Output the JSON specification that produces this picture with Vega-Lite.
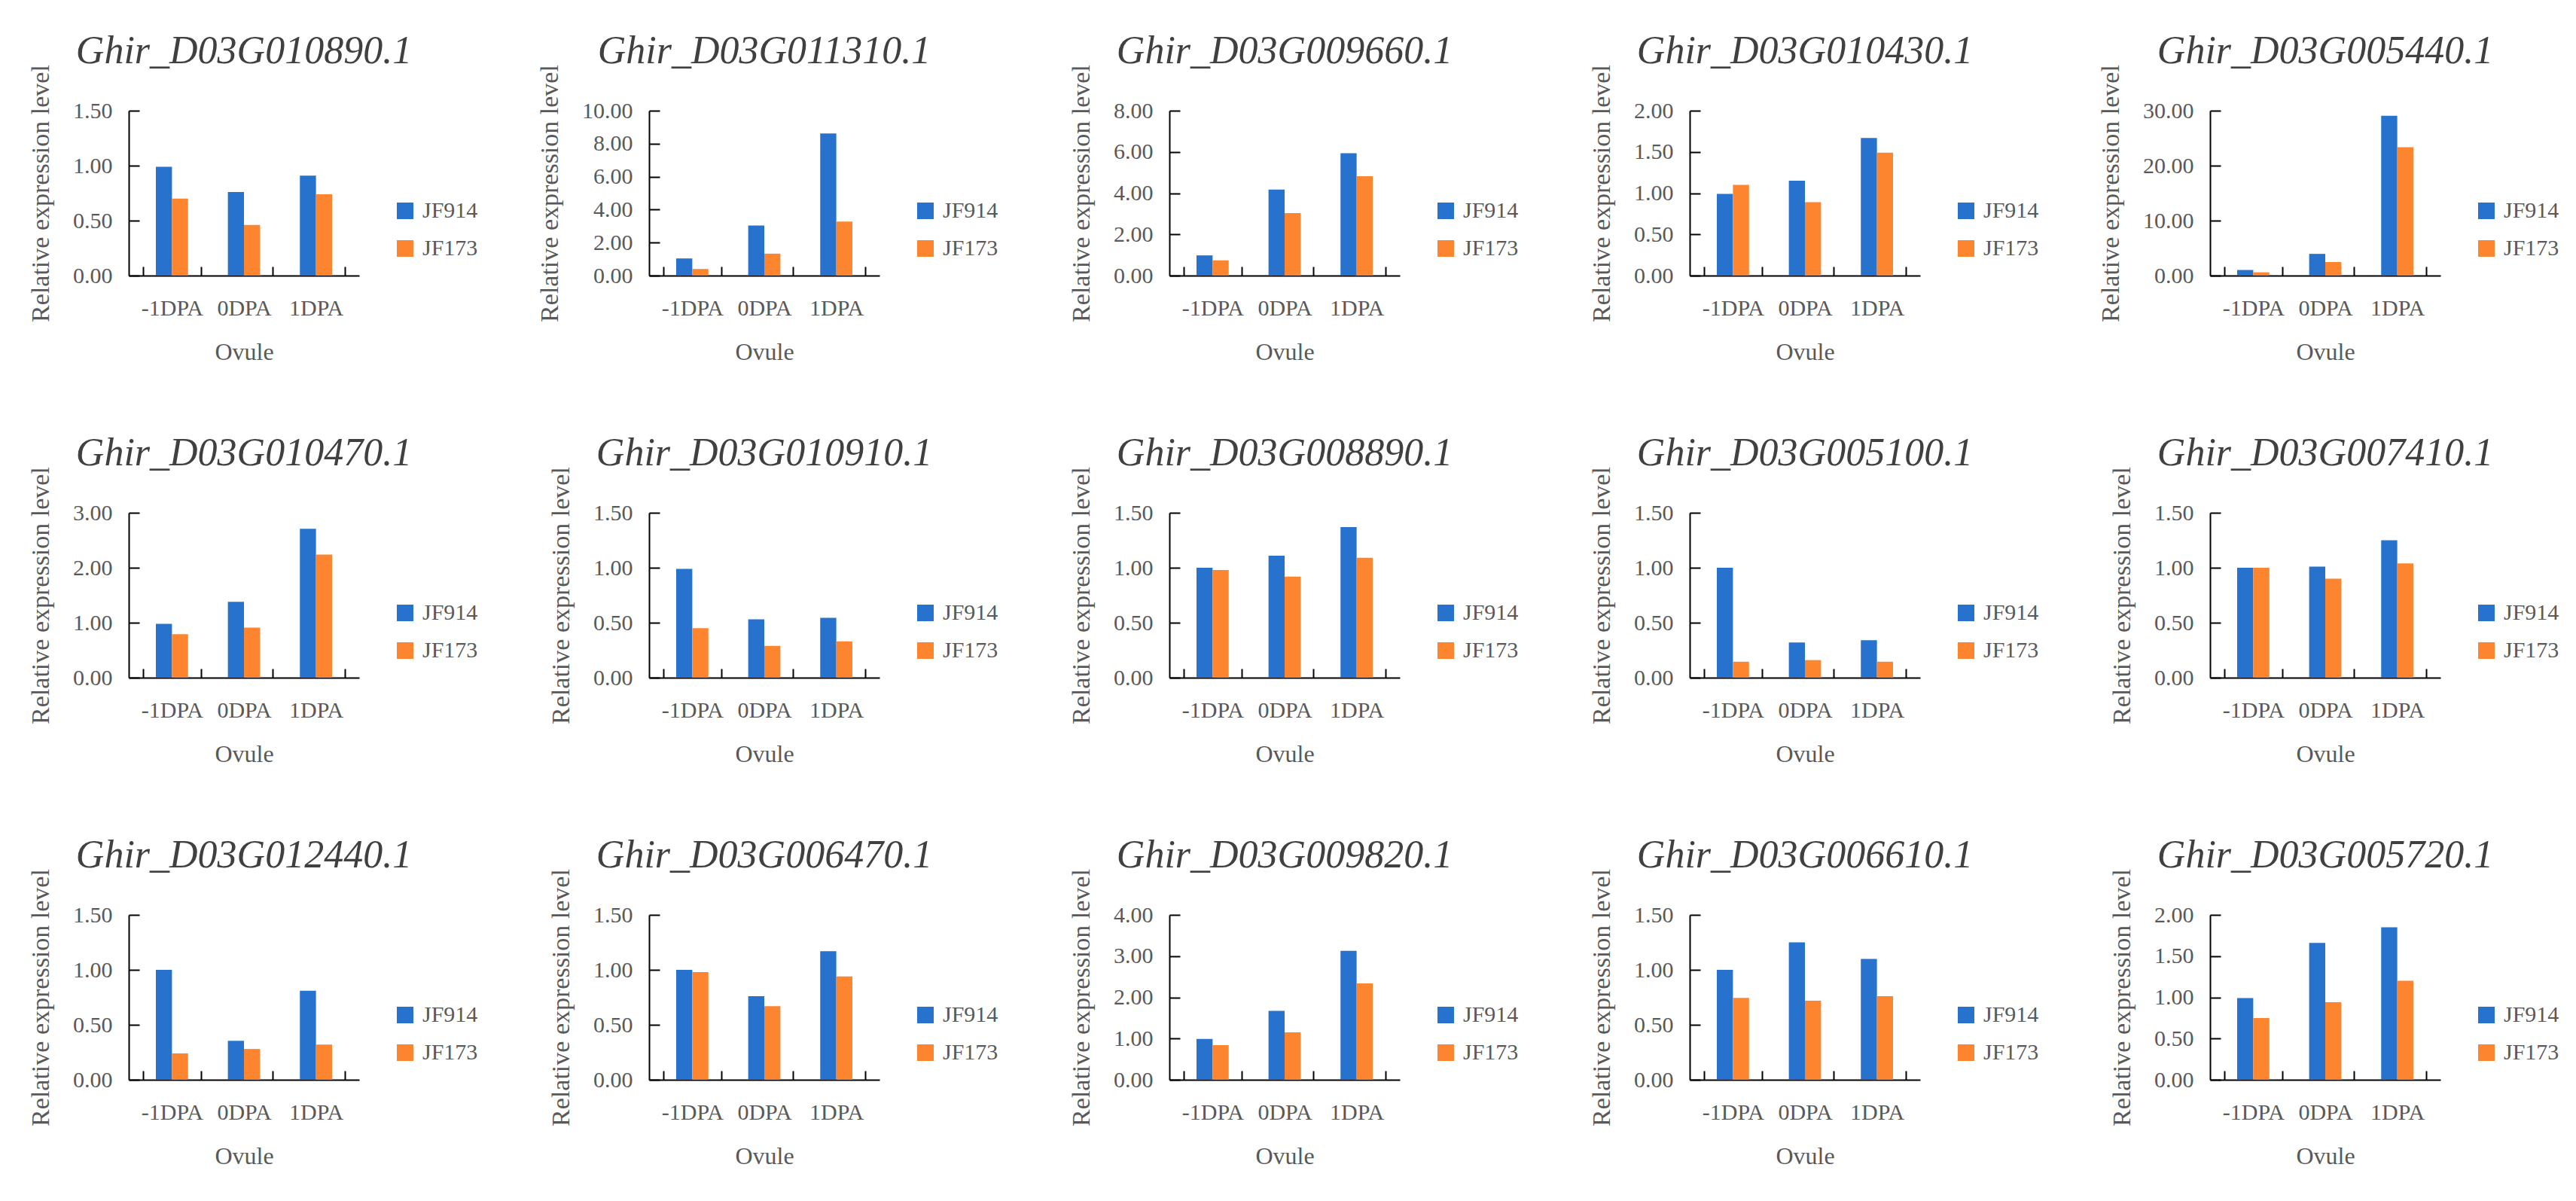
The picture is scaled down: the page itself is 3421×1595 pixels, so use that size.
{
  "$schema": "https://vega.github.io/schema/vega-lite/v6.json",
  "background": "white",
  "padding": {"left": 37, "top": 41, "right": 5, "bottom": 5},
  "data": {
    "values": [
      {"gene": "Ghir_D03G010890.1", "stage": "-1DPA", "line": "JF914", "value": 0.99},
      {"gene": "Ghir_D03G010890.1", "stage": "0DPA", "line": "JF914", "value": 0.76},
      {"gene": "Ghir_D03G010890.1", "stage": "1DPA", "line": "JF914", "value": 0.91},
      {"gene": "Ghir_D03G010890.1", "stage": "-1DPA", "line": "JF173", "value": 0.70},
      {"gene": "Ghir_D03G010890.1", "stage": "0DPA", "line": "JF173", "value": 0.46},
      {"gene": "Ghir_D03G010890.1", "stage": "1DPA", "line": "JF173", "value": 0.74},
      {"gene": "Ghir_D03G011310.1", "stage": "-1DPA", "line": "JF914", "value": 1.04},
      {"gene": "Ghir_D03G011310.1", "stage": "0DPA", "line": "JF914", "value": 3.04},
      {"gene": "Ghir_D03G011310.1", "stage": "1DPA", "line": "JF914", "value": 8.62},
      {"gene": "Ghir_D03G011310.1", "stage": "-1DPA", "line": "JF173", "value": 0.40},
      {"gene": "Ghir_D03G011310.1", "stage": "0DPA", "line": "JF173", "value": 1.33},
      {"gene": "Ghir_D03G011310.1", "stage": "1DPA", "line": "JF173", "value": 3.28},
      {"gene": "Ghir_D03G009660.1", "stage": "-1DPA", "line": "JF914", "value": 0.98},
      {"gene": "Ghir_D03G009660.1", "stage": "0DPA", "line": "JF914", "value": 4.17},
      {"gene": "Ghir_D03G009660.1", "stage": "1DPA", "line": "JF914", "value": 5.94},
      {"gene": "Ghir_D03G009660.1", "stage": "-1DPA", "line": "JF173", "value": 0.74},
      {"gene": "Ghir_D03G009660.1", "stage": "0DPA", "line": "JF173", "value": 3.03},
      {"gene": "Ghir_D03G009660.1", "stage": "1DPA", "line": "JF173", "value": 4.82},
      {"gene": "Ghir_D03G010430.1", "stage": "-1DPA", "line": "JF914", "value": 0.99},
      {"gene": "Ghir_D03G010430.1", "stage": "0DPA", "line": "JF914", "value": 1.15},
      {"gene": "Ghir_D03G010430.1", "stage": "1DPA", "line": "JF914", "value": 1.67},
      {"gene": "Ghir_D03G010430.1", "stage": "-1DPA", "line": "JF173", "value": 1.10},
      {"gene": "Ghir_D03G010430.1", "stage": "0DPA", "line": "JF173", "value": 0.89},
      {"gene": "Ghir_D03G010430.1", "stage": "1DPA", "line": "JF173", "value": 1.49},
      {"gene": "Ghir_D03G005440.1", "stage": "-1DPA", "line": "JF914", "value": 1.02},
      {"gene": "Ghir_D03G005440.1", "stage": "0DPA", "line": "JF914", "value": 3.95},
      {"gene": "Ghir_D03G005440.1", "stage": "1DPA", "line": "JF914", "value": 29.07},
      {"gene": "Ghir_D03G005440.1", "stage": "-1DPA", "line": "JF173", "value": 0.60},
      {"gene": "Ghir_D03G005440.1", "stage": "0DPA", "line": "JF173", "value": 2.47},
      {"gene": "Ghir_D03G005440.1", "stage": "1DPA", "line": "JF173", "value": 23.35},
      {"gene": "Ghir_D03G010470.1", "stage": "-1DPA", "line": "JF914", "value": 0.98},
      {"gene": "Ghir_D03G010470.1", "stage": "0DPA", "line": "JF914", "value": 1.38},
      {"gene": "Ghir_D03G010470.1", "stage": "1DPA", "line": "JF914", "value": 2.71},
      {"gene": "Ghir_D03G010470.1", "stage": "-1DPA", "line": "JF173", "value": 0.79},
      {"gene": "Ghir_D03G010470.1", "stage": "0DPA", "line": "JF173", "value": 0.91},
      {"gene": "Ghir_D03G010470.1", "stage": "1DPA", "line": "JF173", "value": 2.24},
      {"gene": "Ghir_D03G010910.1", "stage": "-1DPA", "line": "JF914", "value": 0.99},
      {"gene": "Ghir_D03G010910.1", "stage": "0DPA", "line": "JF914", "value": 0.53},
      {"gene": "Ghir_D03G010910.1", "stage": "1DPA", "line": "JF914", "value": 0.545},
      {"gene": "Ghir_D03G010910.1", "stage": "-1DPA", "line": "JF173", "value": 0.45},
      {"gene": "Ghir_D03G010910.1", "stage": "0DPA", "line": "JF173", "value": 0.29},
      {"gene": "Ghir_D03G010910.1", "stage": "1DPA", "line": "JF173", "value": 0.33},
      {"gene": "Ghir_D03G008890.1", "stage": "-1DPA", "line": "JF914", "value": 1.00},
      {"gene": "Ghir_D03G008890.1", "stage": "0DPA", "line": "JF914", "value": 1.11},
      {"gene": "Ghir_D03G008890.1", "stage": "1DPA", "line": "JF914", "value": 1.37},
      {"gene": "Ghir_D03G008890.1", "stage": "-1DPA", "line": "JF173", "value": 0.98},
      {"gene": "Ghir_D03G008890.1", "stage": "0DPA", "line": "JF173", "value": 0.92},
      {"gene": "Ghir_D03G008890.1", "stage": "1DPA", "line": "JF173", "value": 1.09},
      {"gene": "Ghir_D03G005100.1", "stage": "-1DPA", "line": "JF914", "value": 1.00},
      {"gene": "Ghir_D03G005100.1", "stage": "0DPA", "line": "JF914", "value": 0.32},
      {"gene": "Ghir_D03G005100.1", "stage": "1DPA", "line": "JF914", "value": 0.34},
      {"gene": "Ghir_D03G005100.1", "stage": "-1DPA", "line": "JF173", "value": 0.145},
      {"gene": "Ghir_D03G005100.1", "stage": "0DPA", "line": "JF173", "value": 0.16},
      {"gene": "Ghir_D03G005100.1", "stage": "1DPA", "line": "JF173", "value": 0.145},
      {"gene": "Ghir_D03G007410.1", "stage": "-1DPA", "line": "JF914", "value": 1.00},
      {"gene": "Ghir_D03G007410.1", "stage": "0DPA", "line": "JF914", "value": 1.01},
      {"gene": "Ghir_D03G007410.1", "stage": "1DPA", "line": "JF914", "value": 1.25},
      {"gene": "Ghir_D03G007410.1", "stage": "-1DPA", "line": "JF173", "value": 1.00},
      {"gene": "Ghir_D03G007410.1", "stage": "0DPA", "line": "JF173", "value": 0.90},
      {"gene": "Ghir_D03G007410.1", "stage": "1DPA", "line": "JF173", "value": 1.04},
      {"gene": "Ghir_D03G012440.1", "stage": "-1DPA", "line": "JF914", "value": 1.00},
      {"gene": "Ghir_D03G012440.1", "stage": "0DPA", "line": "JF914", "value": 0.355},
      {"gene": "Ghir_D03G012440.1", "stage": "1DPA", "line": "JF914", "value": 0.81},
      {"gene": "Ghir_D03G012440.1", "stage": "-1DPA", "line": "JF173", "value": 0.24},
      {"gene": "Ghir_D03G012440.1", "stage": "0DPA", "line": "JF173", "value": 0.28},
      {"gene": "Ghir_D03G012440.1", "stage": "1DPA", "line": "JF173", "value": 0.32},
      {"gene": "Ghir_D03G006470.1", "stage": "-1DPA", "line": "JF914", "value": 1.00},
      {"gene": "Ghir_D03G006470.1", "stage": "0DPA", "line": "JF914", "value": 0.76},
      {"gene": "Ghir_D03G006470.1", "stage": "1DPA", "line": "JF914", "value": 1.17},
      {"gene": "Ghir_D03G006470.1", "stage": "-1DPA", "line": "JF173", "value": 0.98},
      {"gene": "Ghir_D03G006470.1", "stage": "0DPA", "line": "JF173", "value": 0.67},
      {"gene": "Ghir_D03G006470.1", "stage": "1DPA", "line": "JF173", "value": 0.94},
      {"gene": "Ghir_D03G009820.1", "stage": "-1DPA", "line": "JF914", "value": 0.99},
      {"gene": "Ghir_D03G009820.1", "stage": "0DPA", "line": "JF914", "value": 1.67},
      {"gene": "Ghir_D03G009820.1", "stage": "1DPA", "line": "JF914", "value": 3.13},
      {"gene": "Ghir_D03G009820.1", "stage": "-1DPA", "line": "JF173", "value": 0.84},
      {"gene": "Ghir_D03G009820.1", "stage": "0DPA", "line": "JF173", "value": 1.15},
      {"gene": "Ghir_D03G009820.1", "stage": "1DPA", "line": "JF173", "value": 2.34},
      {"gene": "Ghir_D03G006610.1", "stage": "-1DPA", "line": "JF914", "value": 1.00},
      {"gene": "Ghir_D03G006610.1", "stage": "0DPA", "line": "JF914", "value": 1.25},
      {"gene": "Ghir_D03G006610.1", "stage": "1DPA", "line": "JF914", "value": 1.10},
      {"gene": "Ghir_D03G006610.1", "stage": "-1DPA", "line": "JF173", "value": 0.745},
      {"gene": "Ghir_D03G006610.1", "stage": "0DPA", "line": "JF173", "value": 0.72},
      {"gene": "Ghir_D03G006610.1", "stage": "1DPA", "line": "JF173", "value": 0.76},
      {"gene": "Ghir_D03G005720.1", "stage": "-1DPA", "line": "JF914", "value": 0.99},
      {"gene": "Ghir_D03G005720.1", "stage": "0DPA", "line": "JF914", "value": 1.66},
      {"gene": "Ghir_D03G005720.1", "stage": "1DPA", "line": "JF914", "value": 1.85},
      {"gene": "Ghir_D03G005720.1", "stage": "-1DPA", "line": "JF173", "value": 0.75},
      {"gene": "Ghir_D03G005720.1", "stage": "0DPA", "line": "JF173", "value": 0.94},
      {"gene": "Ghir_D03G005720.1", "stage": "1DPA", "line": "JF173", "value": 1.20}
    ]
  },
  "columns": 5,
  "spacing": {"row": 315, "column": 385},
  "bounds": "flush",
  "resolve": {
    "scale": {"x": "independent", "y": "independent", "xOffset": "independent"},
    "axis": {"x": "independent", "y": "independent"},
    "legend": {"color": "independent"}
  },
  "concat": [
    {
      "title": "Ghir_D03G010890.1", "width": 306, "height": 219,
      "transform": [{"filter": "datum.gene === 'Ghir_D03G010890.1'"}],
      "mark": "bar",
      "encoding": {
        "x": {"field": "stage", "type": "nominal", "sort": ["-1DPA", "0DPA", "1DPA"], "title": "Ovule"},
        "xOffset": {"field": "line", "type": "nominal", "sort": ["JF914", "JF173"]},
        "y": {"field": "value", "type": "quantitative", "title": "Relative expression level", "scale": {"domain": [0, 1.5]}, "axis": {"values": [0, 0.5, 1, 1.5], "format": ".2f"}},
        "color": {"field": "line", "type": "nominal", "title": null, "scale": {"domain": ["JF914", "JF173"], "range": ["#2672cc", "#fd8530"]}}
      }
    },
    {
      "title": "Ghir_D03G011310.1", "width": 306, "height": 219,
      "transform": [{"filter": "datum.gene === 'Ghir_D03G011310.1'"}],
      "mark": "bar",
      "encoding": {
        "x": {"field": "stage", "type": "nominal", "sort": ["-1DPA", "0DPA", "1DPA"], "title": "Ovule"},
        "xOffset": {"field": "line", "type": "nominal", "sort": ["JF914", "JF173"]},
        "y": {"field": "value", "type": "quantitative", "title": "Relative expression level", "scale": {"domain": [0, 10]}, "axis": {"values": [0, 2, 4, 6, 8, 10], "format": ".2f"}},
        "color": {"field": "line", "type": "nominal", "title": null, "scale": {"domain": ["JF914", "JF173"], "range": ["#2672cc", "#fd8530"]}}
      }
    },
    {
      "title": "Ghir_D03G009660.1", "width": 306, "height": 219,
      "transform": [{"filter": "datum.gene === 'Ghir_D03G009660.1'"}],
      "mark": "bar",
      "encoding": {
        "x": {"field": "stage", "type": "nominal", "sort": ["-1DPA", "0DPA", "1DPA"], "title": "Ovule"},
        "xOffset": {"field": "line", "type": "nominal", "sort": ["JF914", "JF173"]},
        "y": {"field": "value", "type": "quantitative", "title": "Relative expression level", "scale": {"domain": [0, 8]}, "axis": {"values": [0, 2, 4, 6, 8], "format": ".2f"}},
        "color": {"field": "line", "type": "nominal", "title": null, "scale": {"domain": ["JF914", "JF173"], "range": ["#2672cc", "#fd8530"]}}
      }
    },
    {
      "title": "Ghir_D03G010430.1", "width": 306, "height": 219,
      "transform": [{"filter": "datum.gene === 'Ghir_D03G010430.1'"}],
      "mark": "bar",
      "encoding": {
        "x": {"field": "stage", "type": "nominal", "sort": ["-1DPA", "0DPA", "1DPA"], "title": "Ovule"},
        "xOffset": {"field": "line", "type": "nominal", "sort": ["JF914", "JF173"]},
        "y": {"field": "value", "type": "quantitative", "title": "Relative expression level", "scale": {"domain": [0, 2]}, "axis": {"values": [0, 0.5, 1, 1.5, 2], "format": ".2f"}},
        "color": {"field": "line", "type": "nominal", "title": null, "scale": {"domain": ["JF914", "JF173"], "range": ["#2672cc", "#fd8530"]}}
      }
    },
    {
      "title": "Ghir_D03G005440.1", "width": 306, "height": 219,
      "transform": [{"filter": "datum.gene === 'Ghir_D03G005440.1'"}],
      "mark": "bar",
      "encoding": {
        "x": {"field": "stage", "type": "nominal", "sort": ["-1DPA", "0DPA", "1DPA"], "title": "Ovule"},
        "xOffset": {"field": "line", "type": "nominal", "sort": ["JF914", "JF173"]},
        "y": {"field": "value", "type": "quantitative", "title": "Relative expression level", "scale": {"domain": [0, 30]}, "axis": {"values": [0, 10, 20, 30], "format": ".2f"}},
        "color": {"field": "line", "type": "nominal", "title": null, "scale": {"domain": ["JF914", "JF173"], "range": ["#2672cc", "#fd8530"]}}
      }
    },
    {
      "title": "Ghir_D03G010470.1", "width": 306, "height": 219,
      "transform": [{"filter": "datum.gene === 'Ghir_D03G010470.1'"}],
      "mark": "bar",
      "encoding": {
        "x": {"field": "stage", "type": "nominal", "sort": ["-1DPA", "0DPA", "1DPA"], "title": "Ovule"},
        "xOffset": {"field": "line", "type": "nominal", "sort": ["JF914", "JF173"]},
        "y": {"field": "value", "type": "quantitative", "title": "Relative expression level", "scale": {"domain": [0, 3]}, "axis": {"values": [0, 1, 2, 3], "format": ".2f"}},
        "color": {"field": "line", "type": "nominal", "title": null, "scale": {"domain": ["JF914", "JF173"], "range": ["#2672cc", "#fd8530"]}}
      }
    },
    {
      "title": "Ghir_D03G010910.1", "width": 306, "height": 219,
      "transform": [{"filter": "datum.gene === 'Ghir_D03G010910.1'"}],
      "mark": "bar",
      "encoding": {
        "x": {"field": "stage", "type": "nominal", "sort": ["-1DPA", "0DPA", "1DPA"], "title": "Ovule"},
        "xOffset": {"field": "line", "type": "nominal", "sort": ["JF914", "JF173"]},
        "y": {"field": "value", "type": "quantitative", "title": "Relative expression level", "scale": {"domain": [0, 1.5]}, "axis": {"values": [0, 0.5, 1, 1.5], "format": ".2f"}},
        "color": {"field": "line", "type": "nominal", "title": null, "scale": {"domain": ["JF914", "JF173"], "range": ["#2672cc", "#fd8530"]}}
      }
    },
    {
      "title": "Ghir_D03G008890.1", "width": 306, "height": 219,
      "transform": [{"filter": "datum.gene === 'Ghir_D03G008890.1'"}],
      "mark": "bar",
      "encoding": {
        "x": {"field": "stage", "type": "nominal", "sort": ["-1DPA", "0DPA", "1DPA"], "title": "Ovule"},
        "xOffset": {"field": "line", "type": "nominal", "sort": ["JF914", "JF173"]},
        "y": {"field": "value", "type": "quantitative", "title": "Relative expression level", "scale": {"domain": [0, 1.5]}, "axis": {"values": [0, 0.5, 1, 1.5], "format": ".2f"}},
        "color": {"field": "line", "type": "nominal", "title": null, "scale": {"domain": ["JF914", "JF173"], "range": ["#2672cc", "#fd8530"]}}
      }
    },
    {
      "title": "Ghir_D03G005100.1", "width": 306, "height": 219,
      "transform": [{"filter": "datum.gene === 'Ghir_D03G005100.1'"}],
      "mark": "bar",
      "encoding": {
        "x": {"field": "stage", "type": "nominal", "sort": ["-1DPA", "0DPA", "1DPA"], "title": "Ovule"},
        "xOffset": {"field": "line", "type": "nominal", "sort": ["JF914", "JF173"]},
        "y": {"field": "value", "type": "quantitative", "title": "Relative expression level", "scale": {"domain": [0, 1.5]}, "axis": {"values": [0, 0.5, 1, 1.5], "format": ".2f"}},
        "color": {"field": "line", "type": "nominal", "title": null, "scale": {"domain": ["JF914", "JF173"], "range": ["#2672cc", "#fd8530"]}}
      }
    },
    {
      "title": "Ghir_D03G007410.1", "width": 306, "height": 219,
      "transform": [{"filter": "datum.gene === 'Ghir_D03G007410.1'"}],
      "mark": "bar",
      "encoding": {
        "x": {"field": "stage", "type": "nominal", "sort": ["-1DPA", "0DPA", "1DPA"], "title": "Ovule"},
        "xOffset": {"field": "line", "type": "nominal", "sort": ["JF914", "JF173"]},
        "y": {"field": "value", "type": "quantitative", "title": "Relative expression level", "scale": {"domain": [0, 1.5]}, "axis": {"values": [0, 0.5, 1, 1.5], "format": ".2f"}},
        "color": {"field": "line", "type": "nominal", "title": null, "scale": {"domain": ["JF914", "JF173"], "range": ["#2672cc", "#fd8530"]}}
      }
    },
    {
      "title": "Ghir_D03G012440.1", "width": 306, "height": 219,
      "transform": [{"filter": "datum.gene === 'Ghir_D03G012440.1'"}],
      "mark": "bar",
      "encoding": {
        "x": {"field": "stage", "type": "nominal", "sort": ["-1DPA", "0DPA", "1DPA"], "title": "Ovule"},
        "xOffset": {"field": "line", "type": "nominal", "sort": ["JF914", "JF173"]},
        "y": {"field": "value", "type": "quantitative", "title": "Relative expression level", "scale": {"domain": [0, 1.5]}, "axis": {"values": [0, 0.5, 1, 1.5], "format": ".2f"}},
        "color": {"field": "line", "type": "nominal", "title": null, "scale": {"domain": ["JF914", "JF173"], "range": ["#2672cc", "#fd8530"]}}
      }
    },
    {
      "title": "Ghir_D03G006470.1", "width": 306, "height": 219,
      "transform": [{"filter": "datum.gene === 'Ghir_D03G006470.1'"}],
      "mark": "bar",
      "encoding": {
        "x": {"field": "stage", "type": "nominal", "sort": ["-1DPA", "0DPA", "1DPA"], "title": "Ovule"},
        "xOffset": {"field": "line", "type": "nominal", "sort": ["JF914", "JF173"]},
        "y": {"field": "value", "type": "quantitative", "title": "Relative expression level", "scale": {"domain": [0, 1.5]}, "axis": {"values": [0, 0.5, 1, 1.5], "format": ".2f"}},
        "color": {"field": "line", "type": "nominal", "title": null, "scale": {"domain": ["JF914", "JF173"], "range": ["#2672cc", "#fd8530"]}}
      }
    },
    {
      "title": "Ghir_D03G009820.1", "width": 306, "height": 219,
      "transform": [{"filter": "datum.gene === 'Ghir_D03G009820.1'"}],
      "mark": "bar",
      "encoding": {
        "x": {"field": "stage", "type": "nominal", "sort": ["-1DPA", "0DPA", "1DPA"], "title": "Ovule"},
        "xOffset": {"field": "line", "type": "nominal", "sort": ["JF914", "JF173"]},
        "y": {"field": "value", "type": "quantitative", "title": "Relative expression level", "scale": {"domain": [0, 4]}, "axis": {"values": [0, 1, 2, 3, 4], "format": ".2f"}},
        "color": {"field": "line", "type": "nominal", "title": null, "scale": {"domain": ["JF914", "JF173"], "range": ["#2672cc", "#fd8530"]}}
      }
    },
    {
      "title": "Ghir_D03G006610.1", "width": 306, "height": 219,
      "transform": [{"filter": "datum.gene === 'Ghir_D03G006610.1'"}],
      "mark": "bar",
      "encoding": {
        "x": {"field": "stage", "type": "nominal", "sort": ["-1DPA", "0DPA", "1DPA"], "title": "Ovule"},
        "xOffset": {"field": "line", "type": "nominal", "sort": ["JF914", "JF173"]},
        "y": {"field": "value", "type": "quantitative", "title": "Relative expression level", "scale": {"domain": [0, 1.5]}, "axis": {"values": [0, 0.5, 1, 1.5], "format": ".2f"}},
        "color": {"field": "line", "type": "nominal", "title": null, "scale": {"domain": ["JF914", "JF173"], "range": ["#2672cc", "#fd8530"]}}
      }
    },
    {
      "title": "Ghir_D03G005720.1", "width": 306, "height": 219,
      "transform": [{"filter": "datum.gene === 'Ghir_D03G005720.1'"}],
      "mark": "bar",
      "encoding": {
        "x": {"field": "stage", "type": "nominal", "sort": ["-1DPA", "0DPA", "1DPA"], "title": "Ovule"},
        "xOffset": {"field": "line", "type": "nominal", "sort": ["JF914", "JF173"]},
        "y": {"field": "value", "type": "quantitative", "title": "Relative expression level", "scale": {"domain": [0, 2]}, "axis": {"values": [0, 0.5, 1, 1.5, 2], "format": ".2f"}},
        "color": {"field": "line", "type": "nominal", "title": null, "scale": {"domain": ["JF914", "JF173"], "range": ["#2672cc", "#fd8530"]}}
      }
    }
  ],
  "config": {
    "view": {"stroke": null},
    "scale": {
      "bandPaddingInner": 0,
      "bandPaddingOuter": 0,
      "offsetBandPaddingInner": 0,
      "offsetBandPaddingOuter": 0.79
    },
    "title": {
      "font": "Liberation Serif",
      "fontStyle": "italic",
      "fontWeight": "normal",
      "fontSize": 52,
      "color": "#404040",
      "anchor": "middle",
      "frame": "group",
      "offset": -9
    },
    "axis": {
      "grid": false,
      "domainColor": "black",
      "domainWidth": 2,
      "tickColor": "black",
      "tickWidth": 2,
      "labelFont": "Liberation Serif",
      "labelFontSize": 30,
      "labelColor": "#595959",
      "titleFont": "Liberation Serif",
      "titleFontSize": 34,
      "titleFontWeight": "normal",
      "titleColor": "#595959"
    },
    "axisX": {
      "tickSize": -12,
      "tickBand": "extent",
      "labelAngle": 0,
      "labelPadding": 40,
      "labelLimit": 200,
      "titlePadding": 28,
      "titleFontSize": 32
    },
    "axisY": {
      "tickSize": -14,
      "labelPadding": 36,
      "titlePadding": 25
    },
    "legend": {
      "orient": "none",
      "legendX": 352,
      "legendY": 118,
      "padding": 0,
      "labelFont": "Liberation Serif",
      "labelFontSize": 30,
      "labelColor": "#595959",
      "labelOffset": 8,
      "symbolType": "square",
      "symbolSize": 484,
      "symbolStrokeWidth": 0,
      "rowPadding": 20
    }
  }
}
